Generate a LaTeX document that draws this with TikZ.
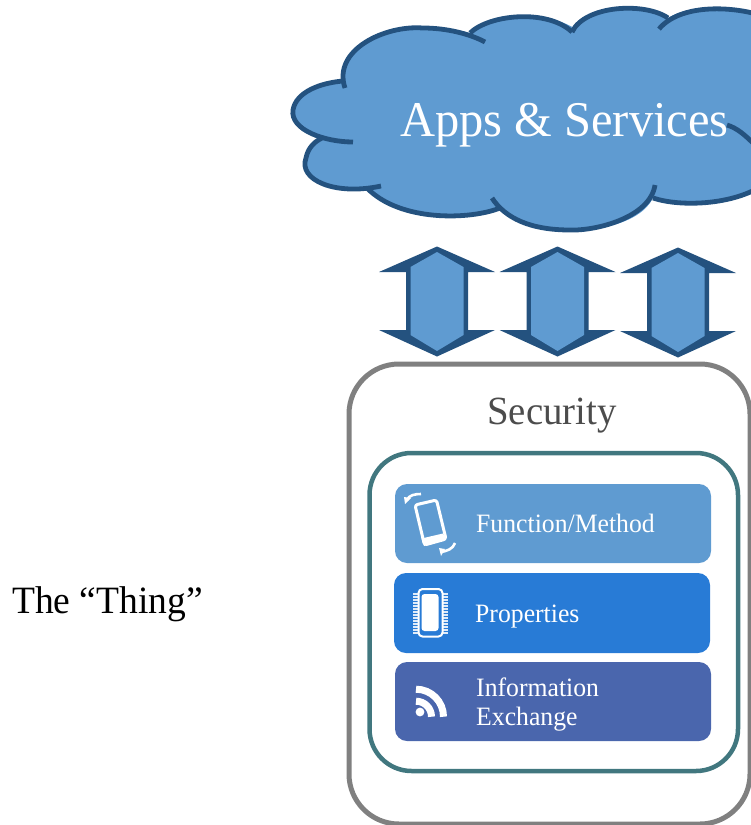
\documentclass[tikz,border=0pt]{standalone}
\usepackage{fontspec}
\setmainfont[FakeStretch=0.97]{Liberation Serif}
\definecolor{cloudfill}{HTML}{5F9BD1}
\definecolor{cloudline}{HTML}{24527F}
\definecolor{secgray}{HTML}{808080}
\definecolor{tealline}{HTML}{41777F}
\definecolor{boxa}{HTML}{5F9BD1}
\definecolor{boxb}{HTML}{287BD6}
\definecolor{boxc}{HTML}{4A66AD}
\tikzset{
 cloudarc/.style={draw=cloudline,line width=4.8pt,line cap=butt},
 panel/.style={rounded corners=12pt},
 label/.style={text=white,anchor=base west,inner sep=0pt,font=\fontsize{26.5}{29}\selectfont},
 icon/.style={draw=white,line width=3pt,line join=round},
}
\begin{document}
\begin{tikzpicture}[x=1pt,y=-1pt]
\useasboundingbox (0,0) rectangle (751,825);
\clip (0,0) rectangle (751,825);
% cloud fill
\fill[cloudfill] (343,81) .. controls (338,50) and (380,22) .. (423,28)
 .. controls (440,28) and (458,30) .. (470,33)
 .. controls (490,15) and (545,10) .. (574,28)
 .. controls (590,5) and (645,2) .. (668,18)
 .. controls (690,4) and (730,6) .. (760,15)
 -- (760,190) .. controls (730,205) and (680,207) .. (653,198)
 .. controls (640,225) and (590,232) .. (570,230)
 .. controls (540,230) and (515,222) .. (500,208)
 .. controls (470,220) and (400,222) .. (367,188)
 .. controls (330,195) and (300,180) .. (306,158)
 .. controls (308,148) and (314,142) .. (322,138)
 .. controls (300,135) and (290,120) .. (293,110)
 .. controls (296,92) and (320,83) .. (343,81) -- cycle;
% cloud outline arcs
\draw[cloudarc] (345,88) .. controls (332,50) and (385,25) .. (423,28) .. controls (447,28) and (470,34) .. (485,42);
\draw[cloudarc] (470,33) .. controls (490,14) and (548,9) .. (572,32);
\draw[cloudarc] (572,32) .. controls (585,5) and (645,2) .. (668,18);
\draw[cloudarc] (659,29) .. controls (680,4) and (730,6) .. (760,15);
\draw[cloudarc] (760,187) .. controls (730,205) and (680,207) .. (653,198);
\draw[cloudarc] (655,185) .. controls (650,218) and (595,231) .. (570,230) .. controls (530,230) and (505,218) .. (492,198);
\draw[cloudarc] (500,208) .. controls (470,220) and (400,222) .. (367,188);
\draw[cloudarc] (381,186) .. controls (335,196) and (298,180) .. (306,158) .. controls (308,148) and (314,142) .. (322,138);
\draw[cloudarc] (353,142) .. controls (325,142) and (290,130) .. (293,110) .. controls (296,92) and (320,83) .. (343,81);
\draw[cloudarc] (727,125) .. controls (737,128) and (745,135) .. (755,145);
\node[text=white,inner sep=0pt,anchor=base,font=\fontsize{50}{54}\selectfont] (apps) at (564.5,136) {Apps \& Services};
% double arrows
\foreach \cx/\dy in {437/0,557.5/0,678/1}{
 \fill[cloudline] (\cx,246.5+\dy) -- (\cx+58,272+\dy) -- (\cx+31,272+\dy) -- (\cx+31,330+\dy) -- (\cx+58,330+\dy)
  -- (\cx,356.5+\dy) -- (\cx-58,330+\dy) -- (\cx-31,330+\dy) -- (\cx-31,272+\dy) -- (\cx-58,272+\dy) -- cycle;
 \fill[cloudfill] (\cx,252+\dy) -- (\cx+26.5,267+\dy) -- (\cx+26.5,335+\dy) -- (\cx,351+\dy) -- (\cx-26.5,335+\dy) -- (\cx-26.5,267+\dy) -- cycle;
}
% security
\draw[secgray,line width=5pt,rounded corners=50pt] (349,364) rectangle (750,824);
\node[text=black!70,inner sep=0pt,anchor=base,font=\fontsize{40}{44}\selectfont] (security) at (552,424) {Security};
\draw[tealline,line width=4.5pt,rounded corners=42pt] (369.5,453) rectangle (738,771);
% panels
\fill[boxa,panel] (395,484) rectangle (711,563);
\fill[boxb,panel] (394,573) rectangle (710,653);
\fill[boxc,panel] (395,662) rectangle (711,741);
\node[label] (fm) at (476,532) {Function/Method};
\node[label] (pr) at (475,622) {Properties};
\node[label] (ie1) at (476,696) {Information};
\node[label] (ie2) at (476,725) {Exchange};
% phone icon
\draw[icon,rounded corners=2.5pt] (415,505) -- (436.5,500) -- (446,539) -- (424.5,545) -- cycle;
\fill[white] (421.5,538.5) -- (443,533.5) -- (446,540) -- (424,546) -- cycle;
\draw[white,line width=2.6pt] (407,500) .. controls (409,495) and (415,494) .. (421,494);
\fill[white] (405,504) -- (404,497) -- (411,498) -- cycle;
\draw[white,line width=2.6pt] (455,543) .. controls (453,549) and (447,551) .. (441,552);
\fill[white] (439,548) -- (445,549) -- (441,556) -- cycle;
% chip icon
\foreach \py in {594,597,...,633}{
 \draw[white!85!boxb,line width=1.3pt] (413,\py) -- (448,\py);
}
\fill[boxb] (418,589) rectangle (443,637);
\draw[white,line width=2pt,rounded corners=4pt] (418.5,589) rectangle (442.5,636.5);
\fill[white,rounded corners=3pt] (421.5,594) rectangle (438.5,631);
% rss icon
\fill[white] (420,712) circle (4.4pt);
\draw[white,line width=7pt] (416,689.2) arc[start angle=90,end angle=0,radius=27.5pt];
\draw[white,line width=7pt] (416,701.2) arc[start angle=90,end angle=0,radius=15.5pt];
% thing
\node[inner sep=0pt,text=black,anchor=base,font=\fontsize{38.7}{42}\selectfont] (thing) at (107.5,613) {The “Thing”};
\end{tikzpicture}
\end{document}
